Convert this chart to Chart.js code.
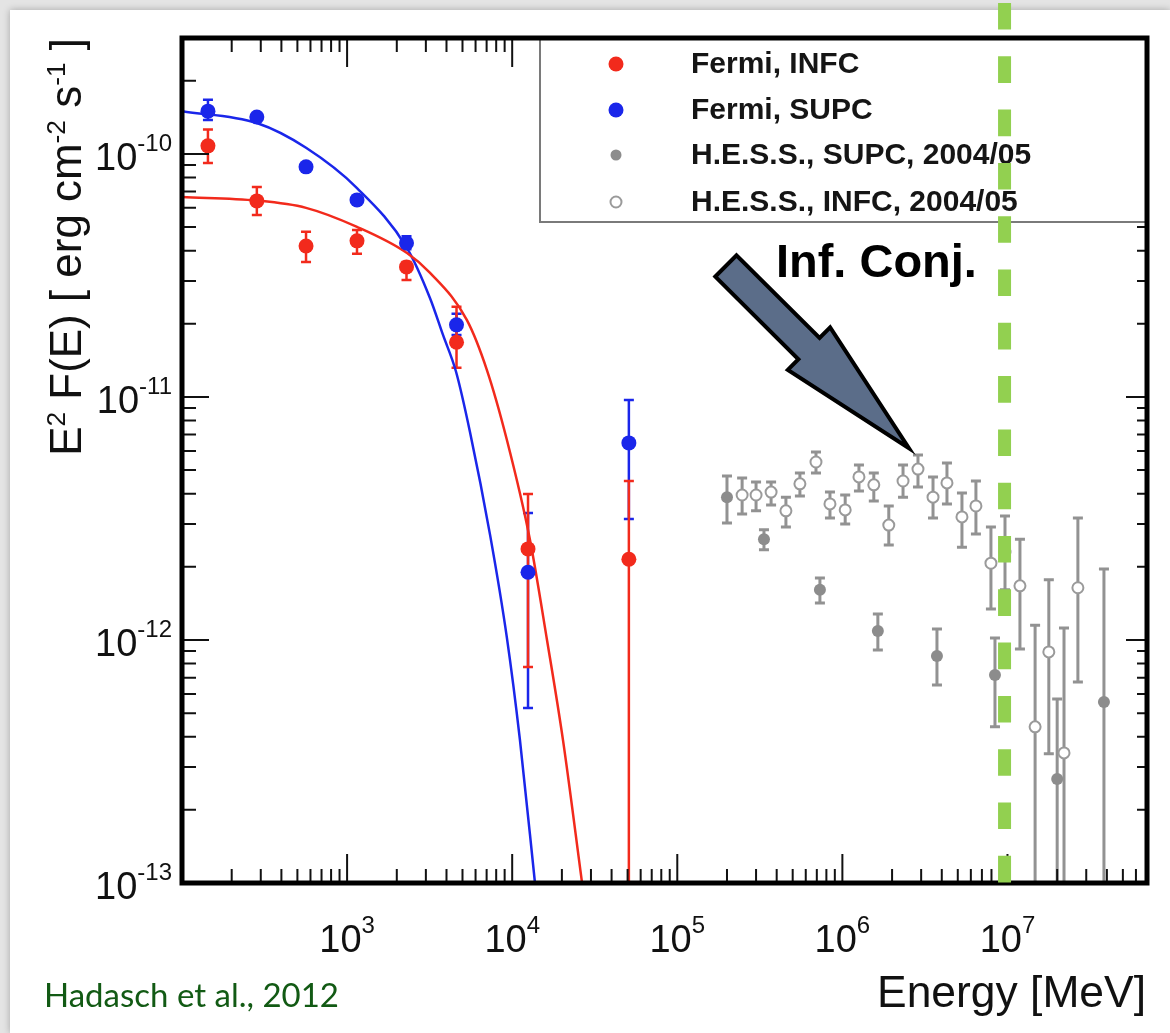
<!DOCTYPE html>
<html>
<head>
<meta charset="utf-8">
<script src="https://cdn.jsdelivr.net/npm/chart.js@4.4.1/dist/chart.umd.min.js"></script>
<style>
    html, body { margin: 0; padding: 0; width: 1170px; height: 1033px; overflow: hidden; background: #e4e4e4; }
    #sheet { position: absolute; left: 10px; top: 10px; width: 1160px; height: 1023px; background: #fff; box-shadow: 0 0 7px rgba(0,0,0,0.28); }
    #plot { position: absolute; left: 0; top: 0; }
</style>
</head>
<body>
<div id="sheet"></div>
<canvas id="plot" width="1170" height="1033"></canvas>
<script>
// ===== data (energy in MeV, E^2 F(E) in erg cm^-2 s^-1) =====

// Fermi-LAT bins (same energies for both orbital phases)
const fermiEnergy = [143.6, 284, 564, 1148, 2290, 4600, 12470, 50900];

const fermiInfcFlux = [1.08e-10, 6.41e-11, 4.18e-11, 4.39e-11, 3.43e-11, 1.68e-11, 2.37e-12, 2.15e-12];
const fermiInfcHigh = [1.26e-10, 7.31e-11, 4.78e-11, 4.87e-11, 3.59e-11, 2.35e-11, 3.99e-12, 4.51e-12];
const fermiInfcLow  = [9.18e-11, 5.61e-11, 3.59e-11, 3.88e-11, 3.03e-11, 1.32e-11, 7.74e-13, 1e-14];

const fermiSupcFlux = [1.50e-10, 1.42e-10, 8.85e-11, 6.47e-11, 4.30e-11, 1.98e-11, 1.90e-12, 6.47e-12];
const fermiSupcHigh = [1.67e-10, 1.46e-10, 9.10e-11, 6.70e-11, 4.58e-11, 2.20e-11, 3.33e-12, 9.72e-12];
const fermiSupcLow  = [1.38e-10, 1.38e-10, 8.60e-11, 6.25e-11, 4.05e-11, 1.80e-11, 5.25e-13, 3.15e-12];

// fitted spectra (cut-off power laws), sampled along the drawn curves
const supcCurveEnergy = [100, 284, 564, 1148, 2306, 3180, 3810, 4570, 5550, 7350, 9290, 11140, 13740];
const supcCurveFlux   = [1.50e-10, 1.34e-10, 1.06e-10, 7.24e-11, 4.10e-11, 2.55e-11, 1.80e-11, 1.27e-11, 7.18e-12, 2.70e-12, 1.02e-12, 3.88e-13, 1.0e-13];

const infcCurveEnergy = [100, 284, 564, 1148, 2306, 3180, 5320, 7030, 9290, 12820, 16250, 20300, 26500];
const infcCurveFlux   = [6.65e-11, 6.43e-11, 6.00e-11, 5.01e-11, 3.91e-11, 3.24e-11, 2.07e-11, 1.29e-11, 6.65e-12, 2.58e-12, 1.0e-12, 3.88e-13, 1.0e-13];

// H.E.S.S. 2004/05
const hessSupcEnergy = [2.0e5, 3.35e5, 7.31e5, 1.64e6, 3.74e6, 8.4e6, 2.0e7, 3.84e7];
const hessSupcFlux   = [3.87e-12, 2.60e-12, 1.61e-12, 1.09e-12, 8.6e-13, 7.18e-13, 2.68e-13, 5.56e-13];
const hessSupcHigh   = [4.73e-12, 2.84e-12, 1.80e-12, 1.28e-12, 1.11e-12, 1.02e-12, 5.72e-13, 1.96e-12];
const hessSupcLow    = [3.03e-12, 2.35e-12, 1.42e-12, 9.1e-13, 6.53e-13, 4.39e-13, 1e-14, 1e-14];

const hessInfcEnergy = [2.47e5, 3.0e5, 3.70e5, 4.55e5, 5.53e5, 6.92e5, 8.41e5, 1.04e6, 1.26e6, 1.55e6, 1.91e6, 2.33e6,
                        2.87e6, 3.54e6, 4.30e6, 5.30e6, 6.44e6, 7.94e6, 9.66e6, 1.19e7, 1.47e7, 1.78e7, 2.20e7, 2.67e7];
const hessInfcFlux   = [3.95e-12, 3.95e-12, 4.06e-12, 3.40e-12, 4.39e-12, 5.40e-12, 3.63e-12, 3.43e-12, 4.69e-12, 4.35e-12, 2.97e-12, 4.51e-12,
                        5.05e-12, 3.87e-12, 4.43e-12, 3.21e-12, 3.56e-12, 2.07e-12, 2.30e-12, 1.67e-12, 4.39e-13, 8.93e-13, 3.43e-13, 1.64e-12];
const hessInfcHigh   = [4.64e-12, 4.47e-12, 4.47e-12, 3.87e-12, 4.87e-12, 5.94e-12, 4.06e-12, 3.95e-12, 5.25e-12, 4.87e-12, 3.56e-12, 5.25e-12,
                        5.77e-12, 4.69e-12, 5.35e-12, 4.03e-12, 4.51e-12, 2.92e-12, 3.24e-12, 2.60e-12, 1.15e-12, 1.77e-12, 1.12e-12, 3.18e-12];
const hessInfcLow    = [3.30e-12, 3.40e-12, 3.59e-12, 2.92e-12, 3.91e-12, 4.87e-12, 3.18e-12, 3.00e-12, 4.10e-12, 3.73e-12, 2.46e-12, 3.87e-12,
                        4.26e-12, 3.18e-12, 3.63e-12, 2.41e-12, 2.73e-12, 1.34e-12, 1.61e-12, 9.18e-13, 1e-14, 3.40e-13, 1e-14, 6.71e-13];

// axes
const xRange = [100, 7e7];
const yRange = [1e-13, 3.0e-10];
const xTickValues = [1e3, 1e4, 1e5, 1e6, 1e7];
const xTickExponents = ["3", "4", "5", "6", "7"];
const yTickValues = [1e-10, 1e-11, 1e-12, 1e-13];
const yTickExponents = ["-10", "-11", "-12", "-13"];

const legendLabels = ["Fermi, INFC", "Fermi, SUPC", "H.E.S.S., SUPC, 2004/05", "H.E.S.S., INFC, 2004/05"];

// annotations (data coordinates)
const markerEnergy = 9.6e6;                 // green dashed line
const arrowTail = [1.97e5, 3.46e-11];
const arrowTip = [2.53e6, 6.16e-12];
const noteAnchor = [3.96e5, 3.12e-11];
const noteText = "Inf. Conj.";
const creditText = "Hadasch et al., 2012";

// ===== styles =====
const FONT = '"Liberation Sans", Arial, Helvetica, sans-serif';
const RED = "#f22a1c";
const BLUE = "#1a26ea";
const GREY = "#8c8c8c";
const GREY_LINE = "#929292";

const pts = (xs, ys) => xs.map((x, i) => ({ x, y: ys[i] }));

// ---- text with superscripts: runs = [[text, isSup], ...] ----
function runsWidth(ctx, runs, size, supSize, weight) {
    let w = 0;
    runs.forEach(([t, sup]) => {
        ctx.font = `${weight} ${sup ? supSize : size}px ${FONT}`;
        w += ctx.measureText(t).width;
    });
    return w;
}

function drawRuns(ctx, runs, x, y, size, supSize, rise, weight) {
    runs.forEach(([t, sup]) => {
        ctx.font = `${weight} ${sup ? supSize : size}px ${FONT}`;
        ctx.fillText(t, x, sup ? y - rise : y);
        x += ctx.measureText(t).width;
    });
}

function drawErrorBars(chart, xs, lo, hi, color, width, cap) {
    const { ctx, chartArea: a, scales } = chart;
    ctx.save();
    ctx.beginPath();
    ctx.rect(a.left, a.top, a.right - a.left, a.bottom - a.top);
    ctx.clip();
    ctx.strokeStyle = color;
    ctx.lineWidth = width;
    xs.forEach((e, i) => {
        const px = scales.x.getPixelForValue(e);
        const y1 = scales.y.getPixelForValue(hi[i]);
        const y2 = scales.y.getPixelForValue(lo[i]);
        ctx.beginPath();
        ctx.moveTo(px, y1); ctx.lineTo(px, y2);
        ctx.moveTo(px - cap, y1); ctx.lineTo(px + cap, y1);
        ctx.moveTo(px - cap, y2); ctx.lineTo(px + cap, y2);
        ctx.stroke();
    });
    ctx.restore();
}

const errorBarPlugin = {
    id: "errorBars",
    beforeDatasetsDraw(chart) {
        drawErrorBars(chart, hessSupcEnergy, hessSupcLow, hessSupcHigh, GREY_LINE, 3, 5);
        drawErrorBars(chart, hessInfcEnergy, hessInfcLow, hessInfcHigh, GREY_LINE, 3, 5);
        drawErrorBars(chart, fermiEnergy, fermiSupcLow, fermiSupcHigh, BLUE, 2.5, 5);
        drawErrorBars(chart, fermiEnergy, fermiInfcLow, fermiInfcHigh, RED, 2.5, 5);
    },
};

// ---- frame, ticks, labels, legend, annotations ----
const decorPlugin = {
    id: "decor",
    afterDatasetsDraw(chart) {
        const { ctx, chartArea: a, scales } = chart;
        const sx = scales.x, sy = scales.y;
        ctx.save();

        // ticks pointing inward on all four sides
        ctx.strokeStyle = "#111";
        ctx.lineWidth = 2;
        ctx.beginPath();
        for (let e = 2; e <= 7; e++) {
            for (let k = 1; k <= 9; k++) {
                const v = k * Math.pow(10, e);
                if (v <= xRange[0] || v >= xRange[1]) continue;
                const px = sx.getPixelForValue(v);
                const len = k === 1 ? 29 : 14;
                ctx.moveTo(px, a.bottom); ctx.lineTo(px, a.bottom - len);
                ctx.moveTo(px, a.top); ctx.lineTo(px, a.top + len);
            }
        }
        for (let e = -13; e <= -10; e++) {
            for (let k = 1; k <= 9; k++) {
                const v = k * Math.pow(10, e);
                if (v <= yRange[0] || v >= yRange[1]) continue;
                const py = sy.getPixelForValue(v);
                ctx.moveTo(a.left, py); ctx.lineTo(a.left + (k === 1 ? 27 : 14), py);
                ctx.moveTo(a.right, py); ctx.lineTo(a.right - (k === 1 ? 21 : 10), py);
            }
        }
        ctx.stroke();

        // legend box
        const lgLeft = 540, lgBottom = 222;
        ctx.fillStyle = "#fff";
        ctx.fillRect(lgLeft, a.top, a.right - lgLeft, lgBottom - a.top);
        ctx.strokeStyle = "#7a7a7a";
        ctx.lineWidth = 2;
        ctx.strokeRect(lgLeft, a.top, a.right - lgLeft, lgBottom - a.top);

        const rowY = [64, 110, 155, 202];
        ctx.font = `bold 30px ${FONT}`;
        ctx.fillStyle = "#151515";
        ctx.textBaseline = "alphabetic";
        legendLabels.forEach((t, i) => ctx.fillText(t, 691, rowY[i] + 9));
        const mx = 616;
        ctx.fillStyle = RED;
        ctx.beginPath(); ctx.arc(mx, rowY[0], 7.5, 0, Math.PI * 2); ctx.fill();
        ctx.fillStyle = BLUE;
        ctx.beginPath(); ctx.arc(mx, rowY[1], 7.5, 0, Math.PI * 2); ctx.fill();
        ctx.fillStyle = GREY;
        ctx.beginPath(); ctx.arc(mx, rowY[2], 5.5, 0, Math.PI * 2); ctx.fill();
        ctx.fillStyle = "#fff";
        ctx.strokeStyle = "#9a9a9a";
        ctx.lineWidth = 2;
        ctx.beginPath(); ctx.arc(mx, rowY[3], 5.5, 0, Math.PI * 2); ctx.fill(); ctx.stroke();

        // frame
        ctx.strokeStyle = "#000";
        ctx.lineWidth = 5;
        ctx.strokeRect(a.left, a.top, a.right - a.left, a.bottom - a.top);

        // tick labels
        ctx.fillStyle = "#111";
        const base = 38, sup = 24, rise = 19;
        xTickValues.forEach((v, i) => {
            const runs = [["10", false], [xTickExponents[i], true]];
            const w = runsWidth(ctx, runs, base, sup, "normal");
            drawRuns(ctx, runs, sx.getPixelForValue(v) - w / 2, 952, base, sup, rise, "normal");
        });
        yTickValues.forEach((v, i) => {
            const runs = [["10", false], [yTickExponents[i], true]];
            const w = runsWidth(ctx, runs, base, sup, "normal");
            drawRuns(ctx, runs, 172 - w, sy.getPixelForValue(v) + 16, base, sup, rise, "normal");
        });

        // x title, right aligned
        ctx.font = `normal 40px ${FONT}`;
        let size = 40 * 269 / ctx.measureText("Energy [MeV]").width;
        ctx.font = `normal ${size}px ${FONT}`;
        ctx.textAlign = "right";
        ctx.fillText("Energy [MeV]", 1146, 1007);
        ctx.textAlign = "left";

        // y title, rotated, ending at the top of the frame
        const yTitle = [["E", false], ["2", true], [" F(E) [ erg cm", false], ["-2", true], [" s", false], ["-1", true], [" ]", false]];
        const w44 = runsWidth(ctx, yTitle, 44, 26, "normal");
        size = 44 * 417 / w44;
        const tw = runsWidth(ctx, yTitle, size, size * 0.6, "normal");
        ctx.save();
        ctx.translate(81, a.top);
        ctx.rotate(-Math.PI / 2);
        drawRuns(ctx, yTitle, -tw, 0, size, size * 0.6, size * 0.36, "normal");
        ctx.restore();

        // arrow
        const t0 = [sx.getPixelForValue(arrowTail[0]), sy.getPixelForValue(arrowTail[1])];
        const t1 = [sx.getPixelForValue(arrowTip[0]), sy.getPixelForValue(arrowTip[1])];
        const len = Math.hypot(t1[0] - t0[0], t1[1] - t0[1]);
        const d = [(t1[0] - t0[0]) / len, (t1[1] - t0[1]) / len];
        const n = [-d[1], d[0]];
        const headLen = 141, shaft = 15, head = 30;
        const b = [t1[0] - d[0] * headLen, t1[1] - d[1] * headLen];
        const P = (p, s) => [p[0] + n[0] * s, p[1] + n[1] * s];
        const poly = [P(t0, shaft), P(b, shaft), P(b, head), t1, P(b, -head), P(b, -shaft), P(t0, -shaft)];
        ctx.beginPath();
        poly.forEach((p, i) => (i ? ctx.lineTo(p[0], p[1]) : ctx.moveTo(p[0], p[1])));
        ctx.closePath();
        ctx.fillStyle = "#5b6d89";
        ctx.fill();
        ctx.strokeStyle = "#000";
        ctx.lineWidth = 4;
        ctx.lineJoin = "miter";
        ctx.stroke();

        // note
        ctx.font = `bold 47px ${FONT}`;
        size = 47 * 201 / ctx.measureText(noteText).width;
        ctx.font = `bold ${size}px ${FONT}`;
        ctx.fillStyle = "#000";
        ctx.fillText(noteText, sx.getPixelForValue(noteAnchor[0]), sy.getPixelForValue(noteAnchor[1]));

        // credit
        ctx.font = `normal 30px Lato, "Open Sans", sans-serif`;
        size = 30 * 295 / ctx.measureText(creditText).width;
        ctx.font = `normal ${size}px Lato, "Open Sans", sans-serif`;
        ctx.fillStyle = "#125a14";
        ctx.fillText(creditText, 44, 1007);

        // green dashed marker
        const gx = sx.getPixelForValue(markerEnergy);
        ctx.strokeStyle = "#92d050";
        ctx.lineWidth = 13;
        ctx.lineCap = "butt";
        ctx.setLineDash([26.6, 26.7]);
        ctx.beginPath();
        ctx.moveTo(gx, 3);
        ctx.lineTo(gx, a.bottom);
        ctx.stroke();

        ctx.restore();
    },
};

new Chart(document.getElementById("plot"), {
    type: "scatter",
    data: {
        datasets: [
            { label: legendLabels[0], data: pts(fermiEnergy, fermiInfcFlux), pointRadius: 7.5, backgroundColor: RED, borderWidth: 0 },
            { label: legendLabels[1], data: pts(fermiEnergy, fermiSupcFlux), pointRadius: 7.5, backgroundColor: BLUE, borderWidth: 0 },
            { label: legendLabels[2], data: pts(hessSupcEnergy, hessSupcFlux), pointRadius: 6, backgroundColor: GREY, borderWidth: 0 },
            { label: legendLabels[3], data: pts(hessInfcEnergy, hessInfcFlux), pointRadius: 5.5, backgroundColor: "#fff", borderColor: "#9a9a9a", borderWidth: 2 },
            { label: "fit INFC", data: pts(infcCurveEnergy, infcCurveFlux), showLine: true, pointRadius: 0, borderColor: RED, borderWidth: 2.5, cubicInterpolationMode: "monotone" },
            { label: "fit SUPC", data: pts(supcCurveEnergy, supcCurveFlux), showLine: true, pointRadius: 0, borderColor: BLUE, borderWidth: 2.5, cubicInterpolationMode: "monotone" },
        ],
    },
    options: {
        responsive: false,
        animation: false,
        devicePixelRatio: 1,
        layout: { padding: { left: 0, top: 38, right: 23, bottom: 0 }, autoPadding: false },
        plugins: { legend: { display: false }, tooltip: { enabled: false } },
        scales: {
            x: {
                type: "logarithmic", min: xRange[0], max: xRange[1],
                ticks: { display: false }, grid: { display: false }, border: { display: false },
                afterFit: (s) => { s.height = 150; },
            },
            y: {
                type: "logarithmic", min: yRange[0], max: yRange[1],
                ticks: { display: false }, grid: { display: false }, border: { display: false },
                afterFit: (s) => { s.width = 182; },
            },
        },
    },
    plugins: [errorBarPlugin, decorPlugin],
});
</script>
</body>
</html>
